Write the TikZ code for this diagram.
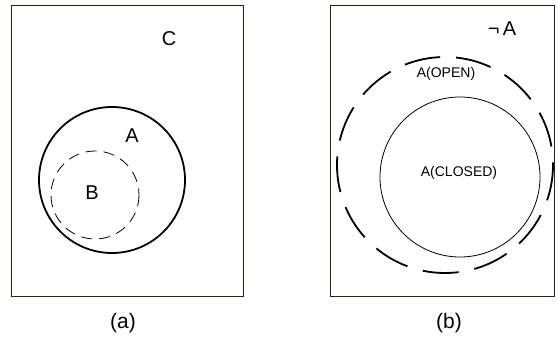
\documentclass[tikz,border=0pt]{standalone}
\usepackage{fontspec}
\setmainfont{Liberation Sans}
\usepackage{tikz}

\begin{document}
\begin{tikzpicture}[x=1pt, y=-1pt,
  frame/.style={draw=black!75!brown, line width=0.8pt},
  big/.style={font=\fontsize{20}{22}\selectfont},
  small/.style={font=\fontsize{14}{16}\selectfont},
  caption/.style={font=\fontsize{21}{23}\selectfont}]
  \useasboundingbox (0,0) rectangle (558,343);
  % (a)
  \draw[frame] (11,5) rectangle (243,296);
  \draw[line width=1.8pt] (112,180) circle (73);
  \draw[line width=0.8pt, dash pattern=on 11pt off 7pt] (95,195) circle (44);
  \node[big] (c) at (169,39) {C};
  \node[big] (a) at (132,136) {A};
  \node[big] (b) at (92,193) {B};
  \node[caption] (capa) at (123,323) {(a)};
  % (b)
  \draw[frame] (330,5) rectangle (554,296);
  \draw[line width=1.8pt, dash pattern=on 36pt off 16pt] (445,165) circle (108);
  \draw[line width=0.8pt] (460,177) circle (80);
  \node[big] (nota) at (502,29) {¬\,A};
  \node[small] (open) at (446,74) {A(OPEN)};
  \node[small] (closed) at (459,173) {A(CLOSED)};
  \node[caption] (capb) at (449,323) {(b)};
\end{tikzpicture}
\end{document}
